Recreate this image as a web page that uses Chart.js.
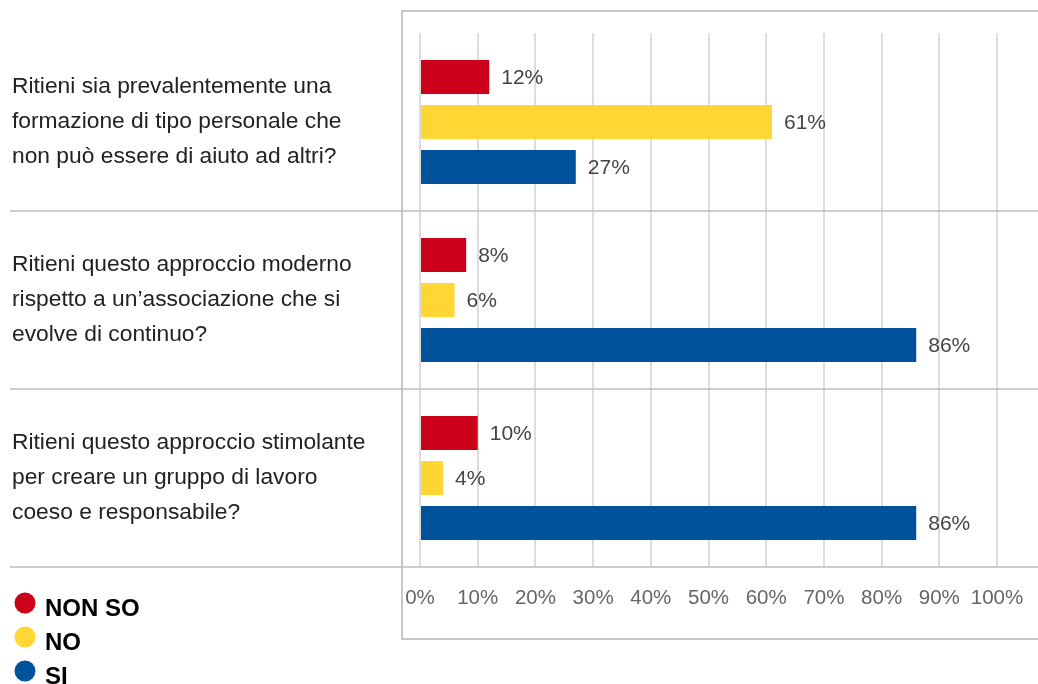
<!DOCTYPE html>
<html>
<head>
    <title>Formazione - sondaggio</title>
    <style>
        body {
            margin: 0;
            padding: 0;
            background-color: #fff;
        }

        #wrap {
            position: relative;
            width: 1038px;
            height: 684px;
        }
    </style>
    <script src="https://cdn.jsdelivr.net/npm/chart.js"></script>
</head>
<body>
    <div id="wrap">
        <canvas id="surveyChart" width="1038" height="684"></canvas>
    </div>

    <script>
        // chart data
        const categories = [
            ["Ritieni sia prevalentemente una", "formazione di tipo personale che", "non può essere di aiuto ad altri?"],
            ["Ritieni questo approccio moderno", "rispetto a un’associazione che si", "evolve di continuo?"],
            ["Ritieni questo approccio stimolante", "per creare un gruppo di lavoro", "coeso e responsabile?"]
        ];
        const seriesNames = ["NON SO", "NO", "SI"];
        const seriesColors = ["#cc0019", "#ffd633", "#00529b"];
        const nonSoValues = [12, 8, 10];
        const noValues = [61, 6, 4];
        const siValues = [27, 86, 86];
        const xTickValues = [0, 10, 20, 30, 40, 50, 60, 70, 80, 90, 100];

        const FONT = "'Liberation Sans', Arial, Helvetica, sans-serif";

        // frame, row separators, value labels and legend
        const decorPlugin = {
            id: "decor",
            beforeDatasetsDraw(chart) {
                const ctx = chart.ctx;
                const area = chart.chartArea;
                const y = chart.scales.y;

                ctx.save();
                // outer frame around the plot
                ctx.strokeStyle = "#b5b5b5";
                ctx.lineWidth = 1.5;
                ctx.beginPath();
                ctx.moveTo(chart.width + 2, area.top - 22);
                ctx.lineTo(area.left - 18, area.top - 22);
                ctx.lineTo(area.left - 18, area.bottom + 72);
                ctx.lineTo(chart.width + 2, area.bottom + 72);
                ctx.stroke();

                // separators under each question
                ctx.strokeStyle = "#bdbdbd";
                ctx.lineWidth = 1.5;
                for (let i = 0; i < categories.length; i++) {
                    let yy;
                    if (i < categories.length - 1) {
                        yy = (y.getPixelForTick(i) + y.getPixelForTick(i + 1)) / 2;
                    } else {
                        yy = area.bottom;
                    }
                    ctx.beginPath();
                    ctx.moveTo(10, yy);
                    ctx.lineTo(chart.width, yy);
                    ctx.stroke();
                }
                ctx.restore();
            },
            afterDatasetsDraw(chart) {
                const ctx = chart.ctx;
                ctx.save();
                ctx.font = "21px " + FONT;
                ctx.fillStyle = "#444";
                ctx.textAlign = "left";
                ctx.textBaseline = "middle";
                chart.data.datasets.forEach((ds, di) => {
                    const meta = chart.getDatasetMeta(di);
                    meta.data.forEach((bar, i) => {
                        ctx.fillText(ds.data[i] + "%", bar.x + 12, bar.y + 1);
                    });
                });
                ctx.restore();
            },
            afterDraw(chart) {
                const ctx = chart.ctx;
                const area = chart.chartArea;
                ctx.save();
                ctx.font = "bold 24px " + FONT;
                ctx.textAlign = "left";
                ctx.textBaseline = "alphabetic";
                seriesNames.forEach((name, i) => {
                    const cy = area.bottom + 36 + i * 34;
                    ctx.fillStyle = seriesColors[i];
                    ctx.beginPath();
                    ctx.arc(25, cy, 10.5, 0, Math.PI * 2);
                    ctx.fill();
                    ctx.fillStyle = "#000";
                    ctx.fillText(name, 45, cy + 13);
                });
                ctx.restore();
            }
        };

        const datasets = [nonSoValues, noValues, siValues].map((vals, i) => ({
            label: seriesNames[i],
            data: vals,
            backgroundColor: seriesColors[i],
            borderWidth: 0,
            categoryPercentage: 0.758,
            barPercentage: 0.756
        }));

        const config = {
            type: "bar",
            data: {
                labels: categories,
                datasets: datasets
            },
            plugins: [decorPlugin],
            options: {
                indexAxis: "y",
                responsive: false,
                animation: false,
                layout: {
                    padding: { left: 12, top: 33, right: 41, bottom: 0 }
                },
                plugins: {
                    legend: { display: false },
                    tooltip: { enabled: false }
                },
                scales: {
                    x: {
                        min: 0,
                        max: 100,
                        afterBuildTicks: (scale) => {
                            scale.ticks = xTickValues.map(v => ({ value: v }));
                        },
                        afterFit: (scale) => {
                            scale.height = 117;
                            scale.paddingLeft = 0;
                            scale.paddingRight = 0;
                        },
                        grid: {
                            color: "#dddddd",
                            lineWidth: 2,
                            drawTicks: false
                        },
                        border: { display: false },
                        ticks: {
                            padding: 19,
                            color: "#666",
                            autoSkip: false,
                            maxRotation: 0,
                            minRotation: 0,
                            font: { family: FONT, size: 20.5 },
                            callback: (v) => v + "%"
                        }
                    },
                    y: {
                        afterFit: (scale) => {
                            scale.width = 408;
                            scale.paddingTop = 0;
                            scale.paddingBottom = 0;
                        },
                        grid: { display: false },
                        border: { display: false },
                        ticks: {
                            crossAlign: "far",
                            padding: 0,
                            autoSkip: false,
                            color: "#222",
                            font: { family: FONT, size: 22.8, lineHeight: 1.535 }
                        }
                    }
                }
            }
        };

        new Chart(document.getElementById("surveyChart").getContext("2d"), config);
    </script>
</body>
</html>
